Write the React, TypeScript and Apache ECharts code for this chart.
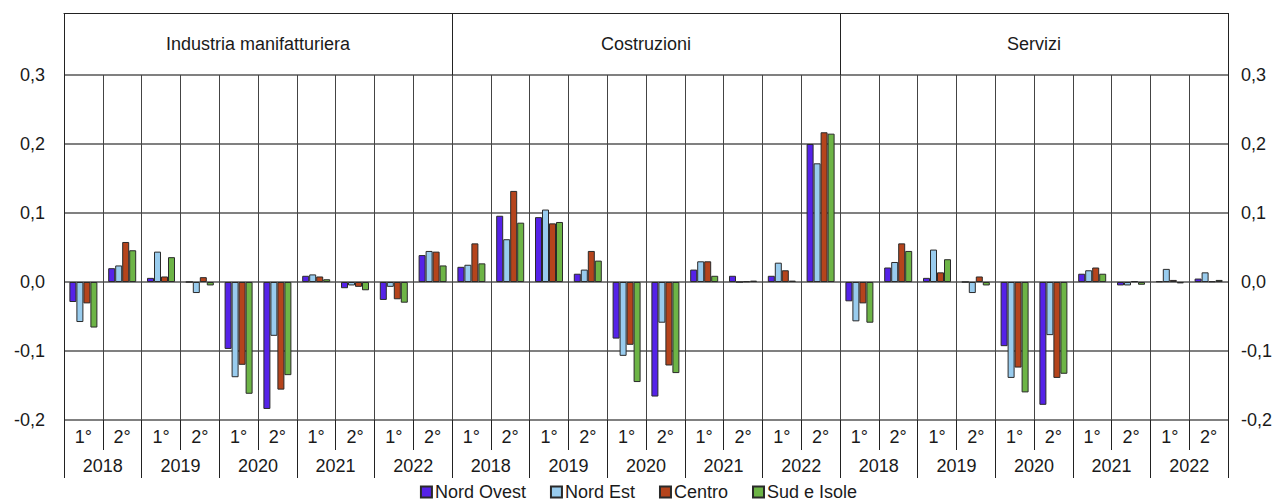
import React, { useEffect, useRef } from "react";
import * as echarts from "echarts";

// Panels (sectors)
const sectors = ["Industria manifatturiera", "Costruzioni", "Servizi"];
const years = ["2018", "2019", "2020", "2021", "2022"];
const halves = ["1°", "2°"];
const seriesNames = ["Nord Ovest", "Nord Est", "Centro", "Sud e Isole"];
const seriesColors = ["#5522E8", "#99CCEE", "#B5441C", "#6DB446"];

// Values: for each series, 10 half-years per sector (manifattura, costruzioni, servizi)
const nordOvest = [
  -0.029, 0.02, 0.006, 0.0, -0.097, -0.184, 0.009, -0.009, -0.026, 0.039,
  0.022, 0.096, 0.094, 0.012, -0.082, -0.166, 0.018, 0.009, 0.009, 0.2,
  -0.028, 0.021, 0.006, 0.0, -0.093, -0.178, 0.012, -0.005, 0.001, 0.005,
];
const nordEst = [
  -0.058, 0.024, 0.044, -0.016, -0.138, -0.078, 0.011, -0.005, -0.007, 0.045,
  0.025, 0.062, 0.105, 0.018, -0.107, -0.059, 0.03, 0.0, 0.028, 0.172,
  -0.057, 0.029, 0.047, -0.016, -0.139, -0.077, 0.017, -0.005, 0.019, 0.014,
];
const centro = [
  -0.031, 0.058, 0.008, 0.007, -0.12, -0.156, 0.008, -0.007, -0.025, 0.044,
  0.056, 0.132, 0.085, 0.045, -0.091, -0.121, 0.03, 0.001, 0.017, 0.217,
  -0.031, 0.056, 0.014, 0.008, -0.124, -0.139, 0.021, 0.001, 0.003, 0.001,
];
const sudIsole = [
  -0.066, 0.046, 0.036, -0.005, -0.162, -0.135, 0.004, -0.012, -0.03, 0.024,
  0.027, 0.086, 0.087, 0.031, -0.145, -0.132, 0.009, 0.002, 0.002, 0.215,
  -0.059, 0.045, 0.033, -0.005, -0.16, -0.133, 0.012, -0.004, -0.002, 0.003,
];
const allSeries = [nordOvest, nordEst, centro, sudIsole];

// Axis tick values
const yMin = -0.2;
const yMax = 0.3;
const yStep = 0.1;

export default function App() {
  const ref = useRef<HTMLDivElement>(null);

  useEffect(() => {
    if (!ref.current) return;
    const chart = echarts.init(ref.current, null, { renderer: "svg" });

    const halfCats: string[] = [];
    const yearCats: string[] = [];
    sectors.forEach(() => {
      years.forEach((y) => {
        yearCats.push(y);
        halves.forEach((h) => halfCats.push(h));
      });
    });

    const font = "Liberation Sans, Arial, sans-serif";
    const txt = { color: "#1a1a1a", fontSize: 18, fontFamily: font };
    const fmt = (v: number) => {
      const r = Math.round(v * 10) / 10;
      return r.toFixed(1).replace(".", ",");
    };

    chart.setOption({
      animation: false,
      backgroundColor: "#ffffff",
      textStyle: { fontFamily: font },
      grid: { left: 64, right: 49, top: 75, bottom: 84, containLabel: false },
      legend: {
        data: seriesNames,
        top: 483,
        left: "center",
        padding: 0,
        itemWidth: 11,
        itemHeight: 11,
        itemGap: 24,
        icon: "rect",
        textStyle: { ...txt, lineHeight: 18, padding: [0, 0, 0, -2] },
      },
      xAxis: [
        {
          type: "category",
          data: halfCats,
          position: "bottom",
          boundaryGap: true,
          axisLine: { show: false, onZero: false },
          axisTick: { show: true, interval: 0, length: 30, lineStyle: { color: "#222", width: 1 } },
          axisLabel: { ...txt, interval: 0, margin: 8 },
          splitLine: { show: true, interval: 0, lineStyle: { color: "#444", width: 1 } },
        },
        {
          type: "category",
          data: yearCats,
          position: "bottom",
          boundaryGap: true,
          axisLine: { show: false, onZero: false },
          axisTick: { show: true, interval: 0, length: 58, lineStyle: { color: "#222", width: 1 } },
          axisLabel: { ...txt, interval: 0, margin: 37 },
          splitLine: { show: false },
        },
        {
          type: "category",
          data: sectors,
          position: "top",
          offset: 62,
          boundaryGap: true,
          axisLine: { show: true, onZero: false, lineStyle: { color: "#222", width: 1 } },
          axisTick: { show: true, inside: true, interval: 0, length: 62, lineStyle: { color: "#222", width: 1 } },
          axisLabel: { ...txt, inside: true, interval: 0, margin: 22 },
          splitLine: { show: false },
        },
      ],
      yAxis: [
        {
          type: "value",
          position: "left",
          min: yMin,
          max: yMax,
          interval: yStep,
          axisLine: { show: true, lineStyle: { color: "#222", width: 1 } },
          axisTick: { show: false },
          axisLabel: { ...txt, margin: 19, formatter: fmt },
          splitLine: { show: true, lineStyle: { color: "#808080", width: 2 } },
        },
        {
          type: "value",
          position: "right",
          min: yMin,
          max: yMax,
          interval: yStep,
          axisLine: { show: true, lineStyle: { color: "#222", width: 1 } },
          axisTick: { show: false },
          axisLabel: { ...txt, margin: 13, formatter: fmt },
          splitLine: { show: false },
        },
      ],
      series: allSeries.map((d, i) => ({
        name: seriesNames[i],
        type: "bar",
        xAxisIndex: 0,
        yAxisIndex: 0,
        data: d,
        barWidth: 7,
        barGap: "0%",
        itemStyle: { color: seriesColors[i], borderColor: "#2a2a2a", borderWidth: 1 },
        emphasis: { disabled: true },
      })),
    });

    return () => chart.dispose();
  }, []);

  return (
    <div
      ref={ref}
      style={{ position: "fixed", left: 0, top: 0, width: 1277, height: 504, background: "#fff" }}
    />
  );
}
